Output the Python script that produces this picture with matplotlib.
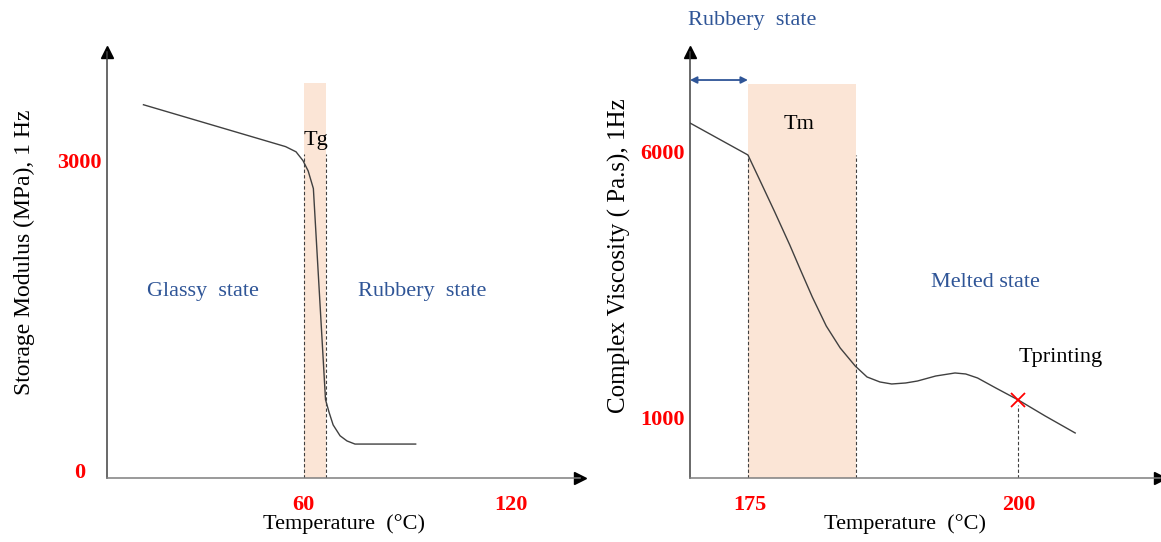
import numpy as np
import matplotlib.pyplot as plt

plt.rcParams['font.family'] = ['Liberation Serif', 'DejaVu Serif']

# ---- left panel: storage modulus vs temperature (schematic) ----
t_left = [14, 55, 58, 60, 61.5, 63, 66.5, 67.5, 68.7, 70.7, 72.7, 75, 92.5]
modulus = [3540, 3135, 3085, 3000, 2900, 2730, 690, 570, 445, 340, 290, 260, 260]
tg_band = (60.3, 66.6)
left_xticks = [60, 120]
left_yticks = [0, 3000]

# ---- right panel: complex viscosity vs temperature (schematic) ----
t_right = [169.4, 174.8, 175.9, 177.3, 178.7, 179.7, 180.8, 182.1, 183.4, 184.8,
           185.9, 187.1, 188.2, 189.5, 190.6, 192.3, 194.1, 195.1, 196.2, 197.9,
           200.0, 202.5, 205.3]
viscosity = [6545, 5944, 5474, 4872, 4252, 3782, 3274, 2729, 2316, 1977,
             1771, 1677, 1639, 1658, 1695, 1789, 1846, 1827, 1752, 1564,
             1338, 1038, 718]
tm_band = (174.8, 184.9)
t_print, visc_print = 200.0, 1338
right_xticks = [175, 200]
right_yticks = [1000, 6000]

BAND = '#FBE5D6'
BLUE = '#2F5597'
LINE = '#404040'
AXC = '#7F7F7F'


def style_axes(ax):
    for s in ['top', 'right']:
        ax.spines[s].set_visible(False)
    ax.spines['left'].set_color('#404040')
    ax.spines['bottom'].set_color(AXC)
    ax.spines['left'].set_linewidth(1.1)
    ax.spines['bottom'].set_linewidth(1.1)
    ax.plot(1, 0, '>', color='k', ms=8, transform=ax.transAxes, clip_on=False)
    ax.plot(0, 1, '^', color='k', ms=8, transform=ax.transAxes, clip_on=False)
    ax.tick_params(length=0)
    for lab in ax.get_xticklabels() + ax.get_yticklabels():
        lab.set_color('red')
        lab.set_fontweight('bold')
        lab.set_fontsize(16)
    for lab in ax.get_yticklabels():
        lab.set_horizontalalignment('center')


fig = plt.figure(figsize=(11.61, 5.42), dpi=100)

# left
ax1 = fig.add_axes([0.0922, 0.1181, 0.4074, 0.786])
ax1.set_xlim(3.5, 139.9)
ax1.set_ylim(-68, 4050)
ax1.axvspan(*tg_band, ymax=(3752 + 68) / (4050 + 68), color=BAND, lw=0)
for xv in tg_band:
    ax1.plot([xv, xv], [-68, 3067], ls=(0, (3, 2)), color='#404040', lw=0.8)
ax1.plot(t_left, modulus, color=LINE, lw=1.0)
ax1.set_xticks(left_xticks)
ax1.set_yticks(left_yticks)
ax1.tick_params(axis='x', pad=12)
ax1.tick_params(axis='y', pad=20)
style_axes(ax1)
ax1.text(63.75, 3193, 'Tg', fontsize=16, ha='center', va='center')
ax1.text(31.2, 1736, 'Glassy  state', fontsize=16, color=BLUE, ha='center', va='center')
ax1.text(94.3, 1736, 'Rubbery  state', fontsize=16, color=BLUE, ha='center', va='center')
ax1.set_xlabel('Temperature  (°C)', fontsize=16)
ax1.xaxis.set_label_coords(0.5, -0.085)
ax1.set_ylabel('Storage Modulus (MPa), 1 Hz', fontsize=17)
ax1.yaxis.set_label_coords(-0.152, 0.53)

# right
ax2 = fig.add_axes([0.5943, 0.1181, 0.4048, 0.786])
ax2.set_xlim(169.4, 213.2)
ax2.set_ylim(-128, 7880)
ax2.axvspan(*tm_band, ymax=(7278 + 128) / (7880 + 128), color=BAND, lw=0)
for xv in tm_band:
    ax2.plot([xv, xv], [-128, 5944], ls=(0, (3, 2)), color='#404040', lw=0.8)
ax2.plot([t_print, t_print], [-128, 1240], ls=(0, (3, 2)), color='#404040', lw=0.8)
ax2.plot(t_right, viscosity, color=LINE, lw=1.0)
ax2.plot(t_print, visc_print, 'x', color='red', ms=10, mew=1.3)
ax2.annotate('', xy=(tm_band[0], 7353), xytext=(169.4, 7353),
             arrowprops=dict(arrowstyle='<|-|>', color=BLUE, lw=1.3, shrinkA=0, shrinkB=0))
ax2.set_xticks(right_xticks)
ax2.set_yticks(right_yticks)
ax2.tick_params(axis='x', pad=12)
ax2.tick_params(axis='y', pad=20)
style_axes(ax2)
ax2.text(175.2, 8481, 'Rubbery  state', fontsize=16, color=BLUE, ha='center', va='center', clip_on=False)
ax2.text(179.6, 6508, 'Tm', fontsize=16, ha='center', va='center')
ax2.text(196.9, 3538, 'Melted state', fontsize=16, color=BLUE, ha='center', va='center')
ax2.text(203.9, 2128, 'Tprinting', fontsize=16, ha='center', va='center')
ax2.set_xlabel('Temperature  (°C)', fontsize=16)
ax2.xaxis.set_label_coords(0.457, -0.085)
ax2.set_ylabel('Complex Viscosity ( Pa.s), 1Hz', fontsize=18)
ax2.yaxis.set_label_coords(-0.126, 0.521)

fig.savefig('out.png', dpi=100)
